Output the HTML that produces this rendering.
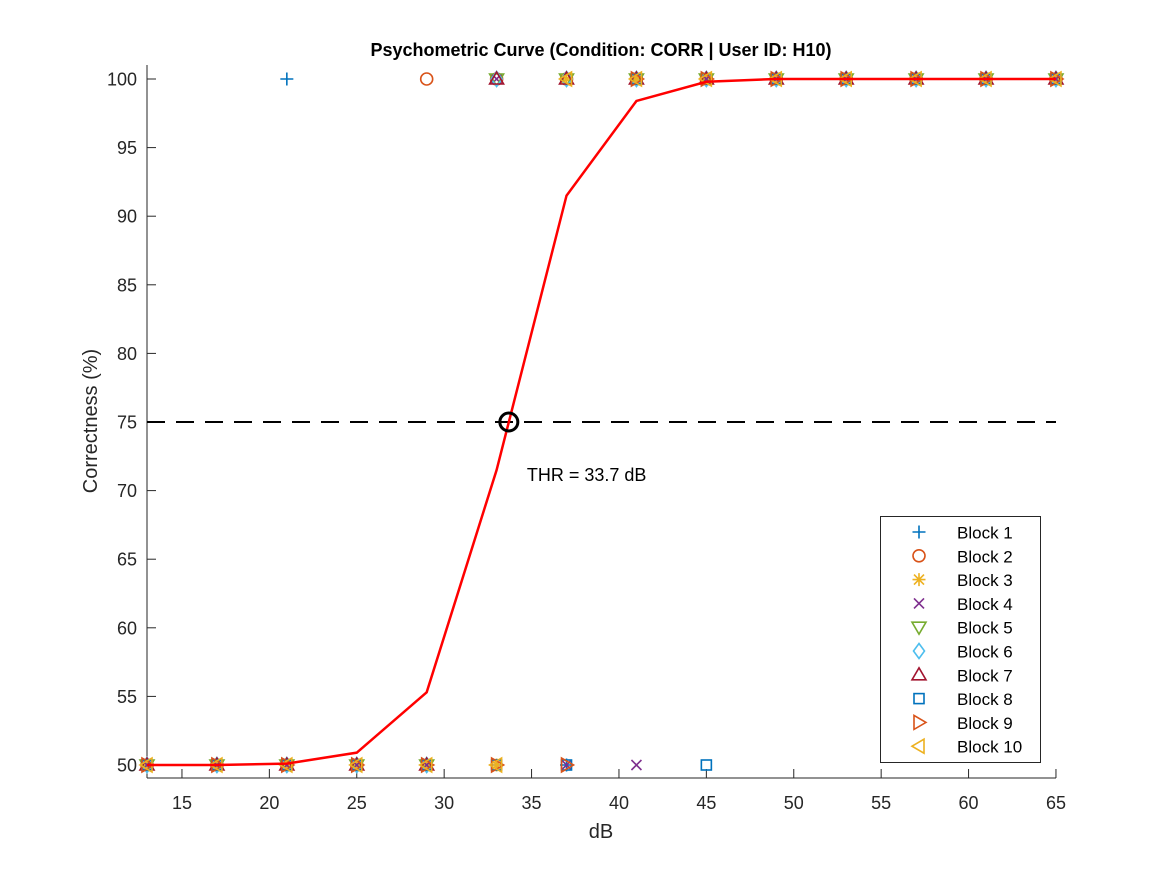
<!DOCTYPE html>
<html><head><meta charset="utf-8"><style>
body{margin:0;background:#fff}
svg text{font-family:"Liberation Sans",sans-serif}
</style></head><body>
<svg id="c" width="1167" height="875"></svg>
<script>
const levels=[13,17,21,25,29,33,37,41,45,49,53,57,61,65];
const fitValues=[50,50,50.1,50.9,55.3,71.5,91.5,98.4,99.8,100,100,100,100,100];
const b1=[50,50,100,50,50,50,50,100,100,100,100,100,100,100];
const b2=[50,50,50,50,100,100,100,100,100,100,100,100,100,100];
const b3=[50,50,50,50,50,50,100,100,100,100,100,100,100,100];
const b4=[50,50,50,50,50,100,50,50,100,100,100,100,100,100];
const b5=[50,50,50,50,50,100,100,100,100,100,100,100,100,100];
const b6=[50,50,50,50,50,100,100,100,100,100,100,100,100,100];
const b7=[50,50,50,50,50,100,100,100,100,100,100,100,100,100];
const b8=[50,50,50,50,50,50,50,100,50,100,100,100,100,100];
const b9=[50,50,50,50,50,50,50,100,100,100,100,100,100,100];
const b10=[50,50,50,50,50,50,100,100,100,100,100,100,100,100];
const blocks=[b1,b2,b3,b4,b5,b6,b7,b8,b9,b10];
const blockNames=["Block 1","Block 2","Block 3","Block 4","Block 5","Block 6","Block 7","Block 8","Block 9","Block 10"];
const colors=["#0072BD","#D95319","#EDB120","#7E2F8E","#77AC30","#4DBEEE","#A2142F","#0072BD","#D95319","#EDB120"];
const shapes=["plus","circle","star","x","tridown","diamond","triup","square","triright","trileft"];
const xTicks=[15,20,25,30,35,40,45,50,55,60,65];
const yTicks=[50,55,60,65,70,75,80,85,90,95,100];
const threshold=33.7, thrLevel=75;

const svg=document.getElementById('c');
const NS='http://www.w3.org/2000/svg';
const X=v=>147+(v-13)*17.48;
const Y=v=>765-(v-50)*13.72;
function mk(tag,attrs,parent){const e=document.createElementNS(NS,tag);for(const k in attrs)e.setAttribute(k,attrs[k]);(parent||svg).appendChild(e);return e;}

let ax=mk('g',{});


mk('line',{x1:147,y1:778,x2:1056,y2:778,stroke:'#262626','stroke-width':1},ax);
mk('line',{x1:147,y1:65,x2:147,y2:778,stroke:'#262626','stroke-width':1},ax);
xTicks.forEach(t=>{
  mk('line',{x1:X(t),y1:778,x2:X(t),y2:769,stroke:'#262626'},ax);
  const tx=mk('text',{x:X(t),y:809,'text-anchor':'middle','font-size':18,fill:'#262626'},ax);
  tx.textContent=t;
  
  
});
yTicks.forEach(t=>{
  mk('line',{x1:147,y1:Y(t),x2:156,y2:Y(t),stroke:'#262626'},ax);
  const tx=mk('text',{x:137,y:Y(t)+6.5,'text-anchor':'end','font-size':18,fill:'#262626'},ax);
  tx.textContent=t;
  
  
});
let t=mk('text',{x:601,y:56,'text-anchor':'middle','font-size':18,'font-weight':'bold',fill:'#000'});
t.textContent='Psychometric Curve (Condition: CORR | User ID: H10)';


t=mk('text',{x:601,y:838,'text-anchor':'middle','font-size':20,fill:'#262626'});
t.textContent='dB';


t=mk('text',{x:97,y:421,'text-anchor':'middle','font-size':20,fill:'#262626',transform:'rotate(-90 97 421)'});
t.textContent='Correctness (%)';



function marker(shape,cx,cy,col,g,s){
  s=s||6.5;const a={fill:'none',stroke:col,'stroke-width':1.6};
  let d;
  switch(shape){
    case 'plus':d=`M${cx-s} ${cy}H${cx+s}M${cx} ${cy-s}V${cy+s}`;break;
    case 'x':d=`M${cx-5} ${cy-5}L${cx+5} ${cy+5}M${cx-5} ${cy+5}L${cx+5} ${cy-5}`;break;
    case 'star':d=`M${cx-s} ${cy}H${cx+s}M${cx} ${cy-s}V${cy+s}M${cx-5} ${cy-5}L${cx+5} ${cy+5}M${cx-5} ${cy+5}L${cx+5} ${cy-5}`;break;
    case 'circle':return mk('circle',Object.assign({cx,cy,r:6},a),g);
    case 'square':return mk('rect',Object.assign({x:cx-5,y:cy-5,width:10,height:10},a),g);
    case 'diamond':d=`M${cx} ${cy-7.5}L${cx+5.5} ${cy}L${cx} ${cy+7.5}L${cx-5.5} ${cy}Z`;break;
    case 'triup':d=`M${cx} ${cy-7}L${cx+7} ${cy+5}L${cx-7} ${cy+5}Z`;break;
    case 'tridown':d=`M${cx} ${cy+7}L${cx+7} ${cy-5}L${cx-7} ${cy-5}Z`;break;
    case 'triright':d=`M${cx+7} ${cy}L${cx-5} ${cy-7}L${cx-5} ${cy+7}Z`;break;
    case 'trileft':d=`M${cx-7} ${cy}L${cx+5} ${cy-7}L${cx+5} ${cy+7}Z`;break;
  }
  return mk('path',Object.assign({d},a),g);
}
blocks.forEach((arr,bi)=>{
  const g=mk('g',{});
  
  
  arr.forEach((v,i)=>{
    const m=marker(shapes[bi],X(levels[i]),Y(v),colors[bi],g);
    
    
  });
});
let l=mk('line',{x1:147,y1:Y(thrLevel),x2:1056,y2:Y(thrLevel),stroke:'#000','stroke-width':2,'stroke-dasharray':'18,11'});


let p=mk('polyline',{points:levels.map((v,i)=>X(v)+','+Y(fitValues[i])).join(' '),fill:'none',stroke:'#f00','stroke-width':2.5});


let c=mk('circle',{cx:X(threshold),cy:Y(thrLevel),r:9,fill:'none',stroke:'#000','stroke-width':3});


t=mk('text',{x:X(threshold)+18,y:Y(thrLevel)+59,'font-size':18,fill:'#000'});
t.textContent='THR = '+threshold+' dB';


const lg=mk('g',{});


mk('rect',{x:880.5,y:516.5,width:160,height:246,fill:'#fff',stroke:'#262626'},lg);
blockNames.forEach((n,i)=>{
  const cy=532+i*23.8;
  const e=mk('g',{},lg);
  
  
  marker(shapes[i],919,cy,colors[i],e);
  const tx=mk('text',{x:957,y:cy+6.5,'font-size':17,fill:'#000'},e);
  tx.textContent=n;
});
</script>
</body></html>
